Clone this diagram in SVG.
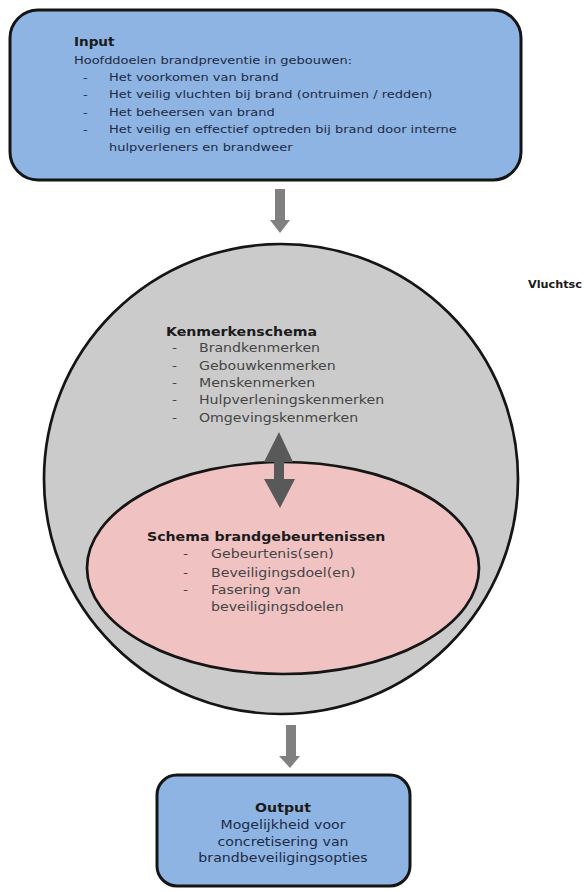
<svg xmlns="http://www.w3.org/2000/svg" width="584" height="892" viewBox="0 0 584 892">
<style>
.box{fill:#8db4e2;stroke:#151515;stroke-width:3}
.t{font-family:"DejaVu Sans","Liberation Sans",sans-serif}
.b{font-weight:bold}
.navy{fill:#1e2a45}
.gray{fill:#454545}
.blk{fill:#1a1a1a}
.arr{fill:#808080}
.dark{fill:#595959}
</style>
<rect width="584" height="892" fill="#ffffff"/>
<g id="input">
<rect class="box" x="10" y="10" width="511" height="170" rx="28"/>
<g transform="scale(1.15,1)" class="t navy" font-size="11.3">
<text x="64.3" y="46" class="b blk" font-size="11.8">Input</text>
<text x="64.3" y="64">Hoofddoelen brandpreventie in gebouwen:</text>
<text x="72.2" y="81">-</text><text x="94.8" y="81">Het voorkomen van brand</text>
<text x="72.2" y="98">-</text><text x="94.8" y="98">Het veilig vluchten bij brand (ontruimen / redden)</text>
<text x="72.2" y="116">-</text><text x="94.8" y="116">Het beheersen van brand</text>
<text x="72.2" y="133">-</text><text x="94.8" y="133">Het veilig en effectief optreden bij brand door interne</text>
<text x="94.8" y="151">hulpverleners en brandweer</text>
</g>
</g>
<g id="kenmerkenschema">
<ellipse cx="281" cy="479" rx="237" ry="235" fill="#cbcbcb" stroke="#151515" stroke-width="2.7"/>
<g transform="scale(1.15,1)" class="t gray" font-size="12.3">
<text x="144.3" y="336" class="b blk">Kenmerkenschema</text>
<text x="149.6" y="352">-</text><text x="173" y="352">Brandkenmerken</text>
<text x="149.6" y="370">-</text><text x="173" y="370">Gebouwkenmerken</text>
<text x="149.6" y="387">-</text><text x="173" y="387">Menskenmerken</text>
<text x="149.6" y="404">-</text><text x="173" y="404">Hulpverleningskenmerken</text>
<text x="149.6" y="422">-</text><text x="173" y="422">Omgevingskenmerken</text>
</g>
</g>
<g id="brandgebeurtenissen">
<ellipse cx="283" cy="568" rx="196" ry="106" fill="#f0c2c2" stroke="#151515" stroke-width="2.7"/>
<g transform="scale(1.15,1)" class="t gray" font-size="12.3">
<text x="127.8" y="541" class="b blk">Schema brandgebeurtenissen</text>
<text x="159.1" y="558">-</text><text x="183.5" y="558">Gebeurtenis(sen)</text>
<text x="159.1" y="577">-</text><text x="183.5" y="577">Beveiligingsdoel(en)</text>
<text x="159.1" y="594">-</text><text x="183.5" y="594">Fasering van</text>
<text x="183.5" y="611">beveiligingsdoelen</text>
</g>
</g>
<g id="output">
<rect class="box" x="157" y="775" width="253" height="111" rx="20"/>
<g transform="scale(1.15,1)" class="t navy" font-size="12.3" text-anchor="middle">
<text x="246.1" y="812" class="b blk">Output</text>
<text x="246.1" y="829">Mogelijkheid voor</text>
<text x="246.1" y="846">concretisering van</text>
<text x="246.1" y="862">brandbeveiligingsopties</text>
</g>
</g>
<g id="label-vluchtsc">
<text transform="scale(1.15,1)" x="459.1" y="288" class="t b blk" font-size="9.8">Vluchtsc</text>
</g>
<g id="connectors">
<polygon class="arr" points="275,189 285,189 285,220 290,220 280,233 270,220 275,220"/>
<polygon class="dark" points="279,432 293,462 284,462 284,479 295,479 280,508 264,479 274,479 274,462 264,462"/>
<polygon class="arr" points="286,725 296,725 296,756 300,756 290,768 279,756 286,756"/>
</g>
</svg>
